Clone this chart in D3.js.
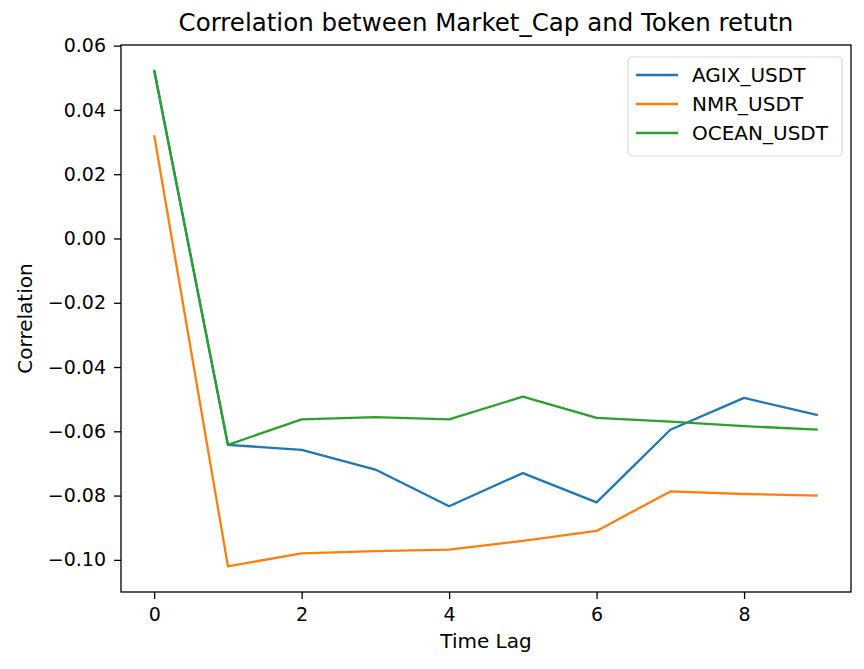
<!DOCTYPE html>
<html>
<head>
<meta charset="utf-8">
<script src="https://cdn.jsdelivr.net/npm/d3@7"></script>
<style>
  body { margin: 0; background: #fff; }
  text { font-family: "DejaVu Sans", sans-serif; fill: #000; }
</style>
</head>
<body>
<div id="chart"></div>
<script>
// chart values
const lags = [0, 1, 2, 3, 4, 5, 6, 7, 8, 9];
const agix = [0.0522, -0.0642, -0.0658, -0.0719, -0.0833, -0.0730, -0.0821, -0.0595, -0.0496, -0.0550];
const nmr = [0.0321, -0.1020, -0.0980, -0.0973, -0.0968, -0.0941, -0.0910, -0.0787, -0.0795, -0.0800];
const ocean = [0.0525, -0.0642, -0.0563, -0.0556, -0.0563, -0.0492, -0.0558, -0.0570, -0.0584, -0.0595];
const seriesNames = ["AGIX_USDT", "NMR_USDT", "OCEAN_USDT"];
const yTicks = [0.06, 0.04, 0.02, 0.00, -0.02, -0.04, -0.06, -0.08, -0.10];
const xTicks = [0, 2, 4, 6, 8];

const colors = ["#1f77b4", "#ff7f0e", "#2ca02c"];
const series = [agix, nmr, ocean];

const W = 864, H = 669;
const margin = {top: 45, right: 13, bottom: 77, left: 121};
const width = W - margin.left - margin.right;
const height = H - margin.top - margin.bottom;

const svg = d3.select("#chart").append("svg")
    .attr("width", W)
    .attr("height", H);

const g = svg.append("g")
    .attr("transform", `translate(${margin.left},${margin.top})`);

// matplotlib style limits (5% padding)
const x = d3.scaleLinear().domain([-0.45, 9.45]).range([0, width]);
const y = d3.scaleLinear().domain([-0.1100, 0.0602]).range([height, 0]);

const fmt = v => (v < 0 ? "\u2212" : "") + Math.abs(v).toFixed(2);

// axes
const xAxis = g.append("g")
    .attr("transform", `translate(0,${height})`)
    .call(d3.axisBottom(x).tickValues(xTicks).tickSize(7).tickPadding(9).tickFormat(d3.format("d")));
const yAxis = g.append("g")
    .call(d3.axisLeft(y).tickValues(yTicks).tickSize(7).tickPadding(8).tickFormat(fmt));

[xAxis, yAxis].forEach(a => {
  a.select(".domain").remove();
  a.selectAll(".tick line").attr("stroke", "#000").attr("stroke-width", 1.3);
  a.selectAll(".tick text").style("font-size", "19px").style("font-family", "DejaVu Sans");
});

// lines
const line = d3.line()
    .x((d, i) => x(lags[i]))
    .y(d => y(d));

series.forEach((s, k) => {
  g.append("path")
    .datum(s)
    .attr("fill", "none")
    .attr("stroke", colors[k])
    .attr("stroke-width", 2.3)
    .attr("stroke-linejoin", "round")
    .attr("d", line);
});

// frame
g.append("rect")
    .attr("width", width)
    .attr("height", height)
    .attr("fill", "none")
    .attr("stroke", "#000")
    .attr("stroke-width", 1.3);

// legend
const legend = g.append("g").attr("transform", `translate(${width - 223},12)`);
legend.append("rect")
    .attr("width", 214)
    .attr("height", 99)
    .attr("rx", 4)
    .attr("fill", "#fff")
    .attr("fill-opacity", 0.8)
    .attr("stroke", "#d9d9d9")
    .attr("stroke-width", 1.2);
seriesNames.forEach((name, k) => {
  const yy = 18 + k * 29;
  legend.append("line")
    .attr("x1", 8).attr("x2", 50)
    .attr("y1", yy).attr("y2", yy)
    .attr("stroke", colors[k])
    .attr("stroke-width", 2.3);
  legend.append("text")
    .attr("x", 64)
    .attr("y", yy)
    .attr("dy", "0.35em")
    .style("font-size", "20px")
    .text(name);
});

// title and axis labels
svg.append("text")
    .attr("x", margin.left + width / 2)
    .attr("y", 31)
    .attr("text-anchor", "middle")
    .style("font-size", "24.5px")
    .text("Correlation between Market_Cap and Token retutn");

svg.append("text")
    .attr("x", margin.left + width / 2)
    .attr("y", 648)
    .attr("text-anchor", "middle")
    .style("font-size", "20px")
    .text("Time Lag");

svg.append("text")
    .attr("transform", `translate(32,${margin.top + height / 2}) rotate(-90)`)
    .attr("text-anchor", "middle")
    .style("font-size", "20px")
    .text("Correlation");
</script>
</body>
</html>
